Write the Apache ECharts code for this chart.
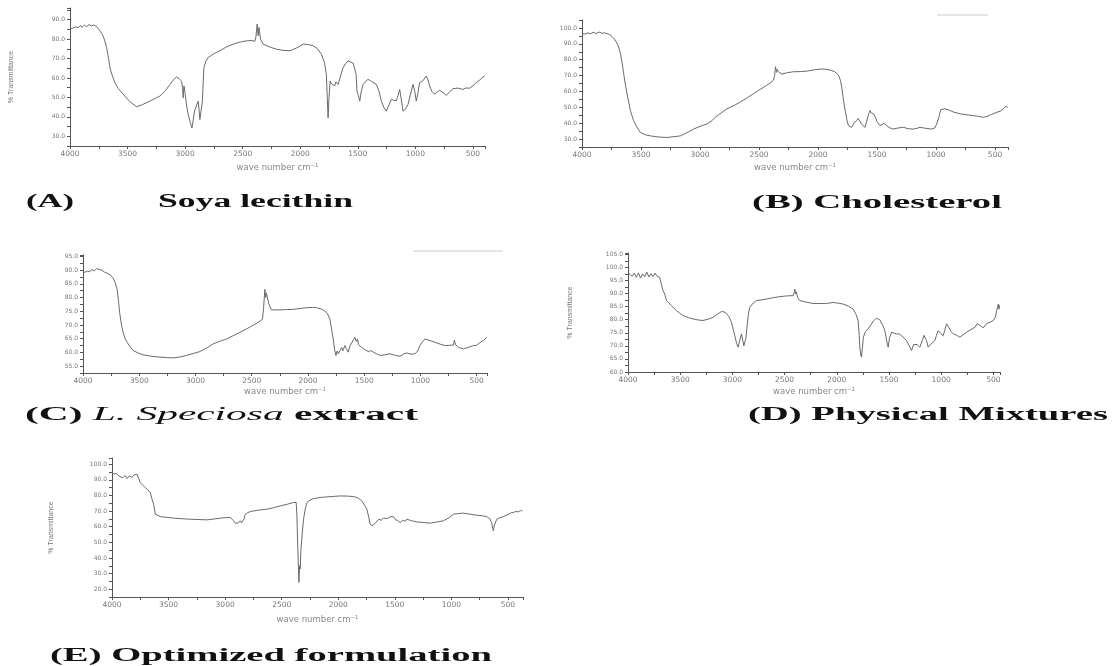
<!DOCTYPE html>
<html>
<head>
<meta charset="utf-8">
<title>FTIR spectra</title>
<script src="https://cdn.jsdelivr.net/npm/echarts@6.0.0/dist/echarts.min.js"></script>
<style>
    html, body { margin: 0; padding: 0; background: #fff; }
    #chart { width: 1114px; height: 666px; }
</style>
</head>
<body>
<div id="chart"></div>
<script>
// [wave number (cm-1), % transmittance]
var soyaLecithin = [
    [4000,85.2],[3975,85.6],[3950,86.3],[3930,85.8],[3913,86.9],[3895,86.1],[3875,87.2],[3855,86.4],[3835,87.5],
    [3815,86.8],[3795,87.3],[3770,86.5],[3755,85.6],[3740,84.3],[3728,85],[3715,82],[3700,79.5],[3682,75.7],
    [3665,70],[3653,65.3],[3640,62.5],[3625,60],[3610,57.6],[3580,54.5],[3537,51.6],[3480,47.8],[3421,45.2],
    [3370,46.3],[3306,48.1],[3250,49.8],[3219,50.7],[3170,53.5],[3132,56.7],[3100,59.2],[3074,60.5],[3050,59.5],
    [3031,58.4],[3022,55],[3017,49.8],[3010,55.9],[3000,52],[2985,45],[2973,41.2],[2955,37],[2940,34.3],[2930,35],
    [2918,43],[2900,46],[2886,48.1],[2878,43],[2872,38.6],[2860,39.5],[2850,48],[2837,65.3],[2820,68.5],[2800,70.5],
    [2750,72.5],[2698,74],[2640,76],[2583,77.4],[2520,78.5],[2467,79.1],[2420,79.3],[2395,78.8],[2385,81],
    [2374,87.8],[2366,81.7],[2358,86],[2345,80],[2322,77.4],[2260,75.8],[2206,74.8],[2150,74.2],[2090,74],
    [2030,75.5],[1975,77.4],[1930,77.2],[1888,76.6],[1850,75],[1816,72.2],[1790,68],[1773,61.9],[1765,50],
    [1758,39.5],[1750,50],[1740,58.4],[1730,57],[1715,57.6],[1700,56],[1690,58],[1671,56.7],[1650,61],[1628,65.3],
    [1605,67.5],[1585,68.8],[1560,68.2],[1540,67.6],[1527,67.1],[1515,62],[1507,53.3],[1495,51],[1483,48.1],
    [1470,53],[1454,56.7],[1435,58],[1411,59.3],[1380,58.2],[1339,56.7],[1315,53],[1295,48.1],[1275,45],
    [1252,42.9],[1230,46],[1208,49],[1190,48.5],[1165,48.4],[1150,51],[1136,54.1],[1125,50],[1107,42.9],
    [1085,44],[1064,46.4],[1045,51],[1020,56.7],[1005,53],[992,48.1],[978,52],[963,57.6],[935,58.5],[905,61],
    [890,59],[876,55.9],[855,53],[832,51.6],[810,52.8],[789,53.6],[760,52.5],[731,51],[700,53],[673,54.5],
    [630,54.8],[587,54.1],[560,54.9],[529,54.7],[500,56],[471,57.6],[440,59],[413,60.5],[398,61]
];
var cholesterol = [
    [4000,96.4],[3975,96.1],[3950,96.9],[3929,96.3],[3905,97.3],[3880,96.5],[3855,97.4],[3830,96.6],[3810,97],
    [3788,96.4],[3765,95.8],[3746,94.7],[3725,93],[3704,90.4],[3690,88],[3675,84.1],[3660,78],[3647,71.3],
    [3630,63],[3613,56.5],[3590,48],[3563,41.6],[3530,37],[3506,34.2],[3460,32.6],[3421,32],[3350,31.3],
    [3280,31],[3220,31.5],[3167,32],[3110,34],[3054,36.3],[3000,38],[2942,39.5],[2900,41.5],[2871,43.7],
    [2820,46.5],[2772,49],[2710,51.2],[2659,53.3],[2600,56],[2546,58.6],[2490,61.3],[2434,63.9],[2400,65.6],
    [2377,67.1],[2368,70],[2360,75.6],[2352,72],[2345,74],[2336,72.4],[2307,70.9],[2260,71.8],[2208,72.4],
    [2150,72.5],[2095,72.8],[2040,73.5],[1982,74.1],[1940,74],[1897,73.5],[1860,72.5],[1827,70.3],[1810,67],
    [1799,62.8],[1785,55],[1770,48],[1755,42],[1742,38.4],[1728,39],[1714,37.4],[1695,40],[1672,41.6],
    [1660,43],[1649,42],[1635,40],[1620,38.5],[1601,37.4],[1585,42],[1570,46],[1559,48],[1550,46.5],[1540,47],
    [1530,45.9],[1515,44],[1500,41],[1488,40.6],[1475,38.5],[1460,39.5],[1440,39.8],[1417,38.4],[1390,37],
    [1361,36.3],[1320,37],[1276,37.4],[1235,36.5],[1192,36.3],[1160,36.8],[1135,37.4],[1090,36.8],[1036,36.3],
    [1010,37],[994,39.5],[975,44],[960,48.5],[952,49.7],[925,49],[895,48.4],[850,47],[797,45.9],[740,45.3],
    [684,44.8],[640,44.3],[599,43.7],[560,44.5],[530,45.5],[515,45.9],[480,47],[455,47.5],[430,49],[410,50.5],
    [392,50]
];
var speciosaExtract = [
    [4000,89],[3980,89.3],[3960,89.6],[3940,89.4],[3920,90.2],[3900,89.7],[3880,90.5],[3865,91.1],[3852,90.2],
    [3830,89.9],[3810,89.3],[3792,89],[3760,88.3],[3733,87.2],[3715,85.5],[3697,83],[3685,79],[3674,74.5],
    [3660,70.5],[3644,67.3],[3625,65],[3608,63.7],[3580,62],[3555,60.7],[3510,59.8],[3466,59.1],[3390,58.6],
    [3318,58.3],[3250,58.1],[3199,58],[3140,58.3],[3080,58.9],[3020,59.6],[2962,60.3],[2900,61.6],[2843,63.1],
    [2780,64.1],[2724,64.9],[2665,66.1],[2606,67.3],[2545,68.6],[2487,69.9],[2440,71],[2404,72.1],[2395,76],
    [2383,83],[2376,80],[2370,81.7],[2350,78],[2325,75.5],[2309,75.1],[2250,75.5],[2190,75.6],[2131,75.7],
    [2070,76],[2012,76.3],[1960,76.4],[1923,76.3],[1880,75.8],[1849,75.1],[1825,74],[1805,72.1],[1790,68.5],
    [1775,64.9],[1763,61],[1751,58.9],[1740,60.5],[1730,59.5],[1716,60.7],[1700,61.8],[1690,60.6],[1671,62.5],
    [1660,61.5],[1650,60.8],[1642,60.1],[1625,62.5],[1610,63],[1595,64.6],[1582,65.5],[1570,64],[1560,64.8],
    [1550,62.8],[1538,63.1],[1520,61.8],[1505,62.4],[1490,60.9],[1479,61.3],[1460,60.3],[1440,60.7],[1419,60.1],
    [1390,59.5],[1360,58.9],[1320,59.1],[1271,59.5],[1230,59],[1182,58.6],[1150,59.4],[1123,59.8],[1085,59.4],
    [1048,59.5],[1025,60.5],[1004,62.5],[980,64],[959,64.9],[915,64.3],[870,63.7],[825,63],[781,62.5],[740,62.6],
    [707,62.7],[698,64.5],[688,62.8],[660,61.8],[618,61.3],[575,61.8],[529,62.5],[500,62.6],[470,63.6],[455,63],
    [440,64.3],[425,64.8],[410,65.5]
];
var physicalMixture = [
    [4000,98],[3980,97.3],[3960,96.6],[3940,97.8],[3920,96.2],[3900,97.9],[3880,95.9],[3860,97.5],[3840,96.4],
    [3820,98.2],[3800,96.3],[3780,97.6],[3760,96.5],[3740,97.8],[3728,96.9],[3712,97.2],[3696,96.1],[3680,93.5],
    [3664,91.1],[3648,89.8],[3632,87.3],[3610,86.5],[3585,85.4],[3560,84.4],[3537,83.5],[3505,82.5],[3473,81.6],
    [3420,80.8],[3377,80.3],[3330,79.9],[3281,79.7],[3230,80.2],[3185,80.9],[3140,82.2],[3105,83.1],[3080,83],
    [3057,82.4],[3030,81],[3009,79],[2990,76],[2977,73.9],[2960,71],[2945,69.5],[2930,72],[2913,74.6],[2900,72],
    [2890,70],[2881,69.5],[2870,73],[2858,78],[2845,82.5],[2834,84.7],[2800,86.4],[2770,87.3],[2720,87.6],
    [2674,87.9],[2610,88.4],[2546,88.8],[2480,89.1],[2418,89.2],[2410,90],[2402,91.7],[2396,89.8],[2388,90.7],
    [2375,88.5],[2354,87.3],[2290,86.7],[2226,86.2],[2160,86.2],[2098,86.2],[2034,86.6],[1985,86.3],[1939,86],
    [1890,85.2],[1843,84],[1815,82],[1795,79.7],[1785,74],[1779,69.5],[1770,66.5],[1763,65.7],[1755,69],
    [1745,73.3],[1725,75.5],[1699,76.5],[1670,78.2],[1650,79.5],[1635,79.7],[1620,80.5],[1603,80.9],[1590,80.1],
    [1571,79.7],[1555,77.5],[1539,75.8],[1522,72],[1515,70.5],[1507,69.5],[1495,73],[1475,75.2],[1450,74.8],
    [1427,74.6],[1400,74.5],[1379,73.9],[1355,73],[1331,72],[1305,70],[1283,68.2],[1265,70.5],[1252,70.8],
    [1230,70.5],[1204,69.5],[1180,72],[1165,74],[1156,74.6],[1140,72],[1124,69.5],[1095,70.8],[1060,72],
    [1045,74],[1028,75.8],[1005,74.8],[980,73.9],[965,76],[948,78.4],[925,77],[905,75.5],[884,74.6],[850,74],
    [820,73.3],[790,74.2],[756,75.2],[720,76.1],[676,77.1],[655,78.5],[644,77.8],[620,77.6],[596,76.9],
    [565,78.5],[532,79],[500,79.7],[480,81],[468,83.5],[458,85],[452,86],[446,84],[440,85.5]
];
var optimizedFormulation = [
    [4000,94.7],[3980,93.8],[3960,94.1],[3940,92.5],[3926,93.2],[3905,91.3],[3885,92.8],[3865,90.9],[3845,92.6],
    [3825,91.5],[3809,93],[3795,93.8],[3779,93.6],[3765,91],[3750,88.3],[3730,86.8],[3706,85.1],[3685,83.7],
    [3661,81.9],[3648,78],[3632,74.4],[3617,68],[3600,67],[3573,66.5],[3520,66],[3455,65.5],[3380,65.1],
    [3308,64.8],[3240,64.6],[3161,64.4],[3100,64.9],[3043,65.5],[3000,65.8],[2955,65.9],[2940,65],[2925,63.8],
    [2910,62.2],[2896,61],[2882,62.5],[2866,63.8],[2855,62.5],[2843,61.6],[2832,65],[2822,68],[2800,69],
    [2778,69.7],[2700,70.7],[2631,71.2],[2570,72.2],[2513,73.3],[2450,74.4],[2395,75.5],[2372,75.5],[2366,68],
    [2360,52],[2354,38],[2348,24.3],[2342,35],[2336,33],[2330,45.6],[2318,56],[2307,64.8],[2290,72],[2277,75.5],
    [2250,77],[2219,78],[2160,78.7],[2101,79.1],[2040,79.4],[1983,79.7],[1920,79.6],[1865,79.3],[1830,78.6],
    [1810,77.5],[1792,76.5],[1770,74],[1747,71.2],[1730,66],[1718,61.6],[1700,60.6],[1688,60.6],[1670,62.5],
    [1644,64.8],[1620,64.2],[1600,65.5],[1571,65.2],[1540,66.3],[1512,66.5],[1495,64.5],[1475,64],[1453,62.7],
    [1430,64.2],[1410,63.4],[1394,64.8],[1350,63.8],[1306,63.1],[1250,62.7],[1188,62.3],[1130,63],[1070,63.8],
    [1020,65.8],[982,68],[940,68.4],[894,68.7],[835,68],[776,67.4],[730,67],[688,66.5],[660,65],[644,62.7],
    [635,59],[629,57.4],[620,61],[599,64.8],[570,65.8],[540,66.5],[500,67.8],[470,69],[452,69.1],[430,69.8],
    [410,69.5],[390,70.3],[372,70.1]
];
var spectra = [soyaLecithin, cholesterol, speciosaExtract, physicalMixture, optimizedFormulation];

// axis scales per panel
var yMin = [25, 25, 52.5, 60, 15];
var yMax = [96, 105, 95.5, 105.5, 104];
var yTickStep = [5, 5, 2.5, 2.5, 5];
var yLabelStep = [10, 10, 5, 5, 10];
var wnStart = 4000;
var wnEnd = [395, 390, 408, 436, 367];
var xLabelStep = 500;

// panel rectangles [left, top, width, height]
var panelRects = [
    [70, 8, 415, 138],
    [582, 20, 426, 127],
    [83, 255, 404, 118],
    [628, 253, 372, 119],
    [112, 458, 411, 139]
];
var yNameGap = [55, 0, 0, 54, 57];
var xNameGap = [17, 16, 14, 15, 18];

var captions = [
    { parts: [['(A)', 'b']], x0: 26, x1: 74, y: 202 },
    { parts: [['Soya lecithin', 'b']], x0: 158, x1: 353, y: 202 },
    { parts: [['(B) Cholesterol', 'b']], x0: 752, x1: 1002, y: 203 },
    { parts: [['(C) ', 'b'], ['L. Speciosa', 'i'], [' extract', 'b']], x0: 25, x1: 418, y: 415 },
    { parts: [['(D) Physical Mixtures', 'b']], x0: 748, x1: 1108, y: 415 },
    { parts: [['(E) Optimized formulation', 'b']], x0: 50, x1: 492, y: 656 }
];

var capFont = { b: 'bold 18px "Liberation Serif"', i: 'italic 18px "Liberation Serif"' };
var measureCtx = document.createElement('canvas').getContext('2d');
function textWidth(str, font) {
    measureCtx.font = font;
    return measureCtx.measureText(str).width;
}

function isMultiple(v, step) {
    var r = v / step;
    return Math.abs(r - Math.round(r)) < 1e-6;
}

var grids = [], xAxes = [], yAxes = [], series = [], graphics = [];
for (var i = 0; i < spectra.length; ++i) {
    var r = panelRects[i];
    grids.push({ left: r[0], top: r[1], width: r[2], height: r[3], containLabel: false, outerBoundsMode: 'none' });
    (function (idx) {
        xAxes.push({
            gridIndex: idx,
            type: 'value',
            min: 0,
            max: wnStart - wnEnd[idx],
            interval: 250,
            name: 'wave number cm\u207B\u00B9',
            nameLocation: 'middle',
            nameGap: xNameGap[idx],
            nameTextStyle: { fontSize: 8.5, color: '#888', fontFamily: 'DejaVu Sans' },
            axisLine: { show: true, lineStyle: { color: '#555', width: 1 } },
            axisTick: { show: true, length: 3, lineStyle: { color: '#555' } },
            axisLabel: {
                fontSize: 7.5, color: '#777', fontFamily: 'DejaVu Sans', margin: 4,
                formatter: function (v) {
                    var wn = wnStart - v;
                    return (isMultiple(wn, xLabelStep) && wn >= 500) ? String(Math.round(wn)) : '';
                }
            },
            splitLine: { show: false }
        });
        yAxes.push({
            gridIndex: idx,
            type: 'value',
            min: yMin[idx],
            max: yMax[idx],
            interval: yTickStep[idx],
            name: yNameGap[idx] ? '% Transmittance' : '',
            nameLocation: 'middle',
            nameRotate: 90,
            nameGap: yNameGap[idx],
            nameTextStyle: { fontSize: 7, color: '#777', fontFamily: 'Liberation Sans' },
            axisLine: { show: true, lineStyle: { color: '#555', width: 1 } },
            axisTick: { show: true, length: 3, lineStyle: { color: '#555' } },
            axisLabel: {
                fontSize: 6, color: '#777', fontFamily: 'DejaVu Sans', margin: 5,
                formatter: function (v) {
                    return isMultiple(v, yLabelStep[idx]) ? v.toFixed(1) : '';
                }
            },
            splitLine: { show: false }
        });
        series.push({
            type: 'line',
            xAxisIndex: idx,
            yAxisIndex: idx,
            showSymbol: false,
            animation: false,
            lineStyle: { color: '#6a6a6a', width: 1 },
            data: spectra[idx].map(function (p) { return [wnStart - p[0], p[1]]; })
        });
    })(i);
}

// captions, stretched horizontally like the source figure
captions.forEach(function (c) {
    var w = 0, rich = '';
    c.parts.forEach(function (p) {
        w += textWidth(p[0], capFont[p[1]]);
        rich += '{' + p[1] + '|' + p[0] + '}';
    });
    graphics.push({
        type: 'text',
        x: c.x0,
        y: c.y,
        scaleX: (c.x1 - c.x0) / w,
        style: {
            text: rich,
            align: 'left',
            verticalAlign: 'middle',
            fill: '#111',
            rich: {
                b: { fontFamily: 'Liberation Serif', fontWeight: 'bold', fontSize: 18, fill: '#111' },
                i: { fontFamily: 'Liberation Serif', fontStyle: 'italic', fontWeight: 'normal', fontSize: 18, fill: '#111' }
            }
        }
    });
});

// faint leftover strokes in the top right of panels B and C
graphics.push({ type: 'line', shape: { x1: 937, y1: 15, x2: 988, y2: 15 }, style: { stroke: '#ccc', lineWidth: 1 } });
graphics.push({ type: 'line', shape: { x1: 413, y1: 251, x2: 503, y2: 251 }, style: { stroke: '#ccc', lineWidth: 1 } });

var chart = echarts.init(document.getElementById('chart'));
chart.setOption({
    backgroundColor: '#fff',
    animation: false,
    grid: grids,
    xAxis: xAxes,
    yAxis: yAxes,
    series: series,
    graphic: graphics
});
</script>
</body>
</html>
